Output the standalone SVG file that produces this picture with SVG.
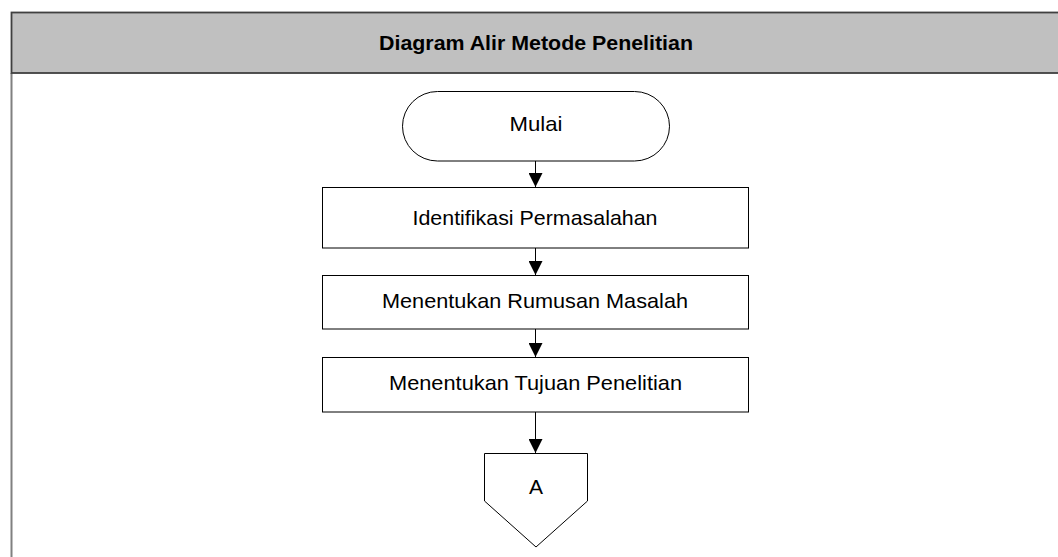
<svg xmlns="http://www.w3.org/2000/svg" width="1058" height="557" viewBox="0 0 1058 557">
  <style>
    .node { fill: #ffffff; stroke: #000000; stroke-width: 1; }
    .lbl { font-family: "Liberation Sans", Arial, sans-serif; font-size: 21px; fill: #000000; text-anchor: middle; }
    .title { font-family: "Liberation Sans", Arial, sans-serif; font-size: 21px; font-weight: bold; fill: #000000; text-anchor: middle; }
    .conn { stroke: #000000; stroke-width: 1; fill: none; }
  </style>
  <defs>
    <marker id="arrow" markerUnits="userSpaceOnUse" markerWidth="14" markerHeight="14" viewBox="0 0 12 12" refX="12" refY="6" orient="auto">
      <path d="M0,0 L12,6 L0,12 Z" fill="#000000"/>
    </marker>
  </defs>
  <rect width="1058" height="557" fill="#ffffff"/>
  <g id="frame">
    <line x1="11.5" y1="73" x2="11.5" y2="557" stroke="#808080" stroke-width="2"/>
    <rect x="11.5" y="12.5" width="1050" height="60.5" fill="#c0c0c0" stroke="#404040" stroke-width="1.8"/>
    <text class="title" x="536" y="50" textLength="314" lengthAdjust="spacingAndGlyphs">Diagram Alir Metode Penelitian</text>
  </g>
  <g id="connectors">
    <line class="conn" x1="535.5" y1="161" x2="535.5" y2="187" marker-end="url(#arrow)"/>
    <line class="conn" x1="535.5" y1="248" x2="535.5" y2="275" marker-end="url(#arrow)"/>
    <line class="conn" x1="535.5" y1="329" x2="535.5" y2="357" marker-end="url(#arrow)"/>
    <line class="conn" x1="535.5" y1="412" x2="535.5" y2="453" marker-end="url(#arrow)"/>
  </g>
  <g id="mulai">
    <rect class="node" x="402.5" y="91.5" width="267" height="69.5" rx="35" ry="34.75"/>
    <text class="lbl" x="536" y="131" textLength="53" lengthAdjust="spacingAndGlyphs">Mulai</text>
  </g>
  <g id="identifikasi">
    <rect class="node" x="322.5" y="187.5" width="426" height="60.5"/>
    <text class="lbl" x="535" y="225" textLength="245" lengthAdjust="spacingAndGlyphs">Identifikasi Permasalahan</text>
  </g>
  <g id="rumusan">
    <rect class="node" x="322.5" y="275.5" width="426" height="53.5"/>
    <text class="lbl" x="535" y="308" textLength="306" lengthAdjust="spacingAndGlyphs">Menentukan Rumusan Masalah</text>
  </g>
  <g id="tujuan">
    <rect class="node" x="322.5" y="357.5" width="426" height="54.5"/>
    <text class="lbl" x="535.5" y="390" textLength="293" lengthAdjust="spacingAndGlyphs">Menentukan Tujuan Penelitian</text>
  </g>
  <g id="offpage-a">
    <polygon class="node" points="484.5,453.5 587.5,453.5 587.5,501 536,547 484.5,501"/>
    <text class="lbl" x="536" y="494">A</text>
  </g>
</svg>
